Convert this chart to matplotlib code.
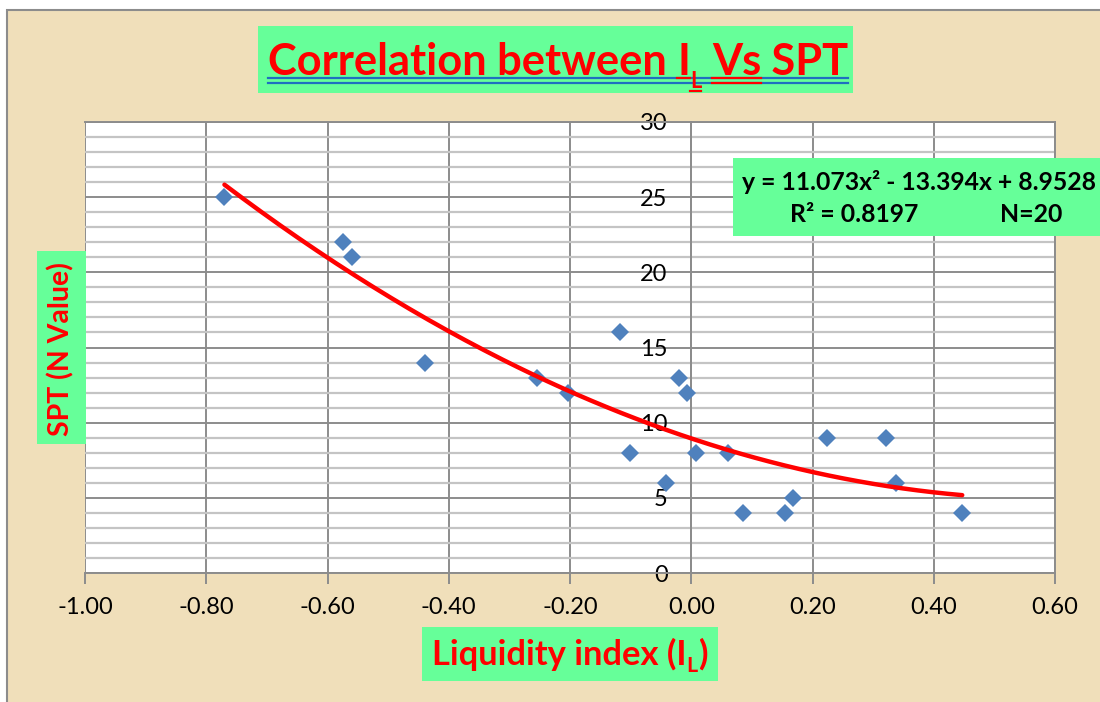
import numpy as np
import matplotlib
matplotlib.use('Agg')
from matplotlib import pyplot as plt
from matplotlib import font_manager
from matplotlib.patches import Rectangle
from matplotlib.lines import Line2D

# data
il = [-0.77, -0.574, -0.559, -0.44, -0.254, -0.203, -0.117, -0.101, -0.041, -0.02,
      -0.007, 0.008, 0.061, 0.086, 0.155, 0.168, 0.224, 0.322, 0.338, 0.447]
spt = [25, 22, 21, 14, 13, 12, 16, 8, 6, 13,
       12, 8, 8, 4, 4, 5, 9, 9, 6, 4]
coef = [11.073, -13.394, 8.9528]   # trendline shown on chart
r2 = 0.8197
xticks = [-1.0, -0.8, -0.6, -0.4, -0.2, 0.0, 0.2, 0.4, 0.6]
yticks = [0, 5, 10, 15, 20, 25, 30]

W, H = 1100, 702
BOLD = ['Lato', 'DejaVu Sans']
GREEN = '#66FF99'


def has_font(name):
    try:
        font_manager.findfont(name, fallback_to_default=False)
        return True
    except Exception:
        return False


NARROW = ['Liberation Sans Narrow'] if has_font('Liberation Sans Narrow') else ['Lato']


def fx(x):
    return x / W


def fy(y):
    return 1 - y / H


fig = plt.figure(figsize=(11, 7.02), dpi=100)
fig.patch.set_facecolor('white')
renderer = fig.canvas.get_renderer()


def box(x0, y0, x1, y1, fc, ec='none', lw=0, z=2):
    fig.add_artist(Rectangle((fx(x0), fy(y1)), fx(x1) - fx(x0), fy(y0) - fy(y1),
                             transform=fig.transFigure, facecolor=fc, edgecolor=ec,
                             linewidth=lw, zorder=z))


def hline(x0, x1, y, color, lw):
    fig.add_artist(Line2D([fx(x0), fx(x1)], [fy(y), fy(y)], transform=fig.transFigure,
                          color=color, linewidth=lw, zorder=5))


def runs(parts, x0, x1, base_y, color, family=BOLD):
    # draw text pieces one after another, scaled so the whole fits x0..x1
    texts = []
    for t, rs, dy in parts:
        texts.append(fig.text(0, 0, t, fontsize=20 * rs, color=color, family=family,
                              weight='bold', va='baseline', ha='left', zorder=6))
    tot = sum(t.get_window_extent(renderer).width for t in texts)
    sc = (x1 - x0) / tot
    pos = []
    cur = x0
    for t, (s, rs, dy) in zip(texts, parts):
        t.set_fontsize(20 * rs * sc)
        t.set_position((fx(cur), fy(base_y + dy)))
        w = t.get_window_extent(renderer).width
        pos.append((cur, cur + w))
        cur += w
    return pos, 20 * sc


# background panel
box(7, 10, 1110, 712, '#F0DFBA', ec='#8c8c8c', lw=1.5, z=-10)

ax = fig.add_axes([fx(85), fy(573), fx(1055) - fx(85), (573 - 122) / H])
ax.set_zorder(1)
ax.set_facecolor('white')
ax.set_xlim(-1.0, 0.6)
ax.set_ylim(0, 30)
ax.set_xticks(xticks)
ax.set_xticklabels(['%.2f' % v for v in xticks])
ax.set_yticks(yticks)
ax.set_yticks(np.arange(0, 31, 1), minor=True)
ax.set_axisbelow(True)
ax.grid(axis='y', which='minor', color='#c4c4c4', linewidth=1.6)
ax.grid(axis='y', which='major', color='#8c8c8c', linewidth=1.4)
ax.grid(axis='x', which='major', color='#8c8c8c', linewidth=1.4)
for s in ax.spines.values():
    s.set_color('#8c8c8c')
    s.set_linewidth(1.4)
ax.spines['left'].set_position(('data', 0))
ax.tick_params(axis='y', which='both', length=0, pad=17, labelsize=17)
ax.tick_params(axis='x', which='major', direction='out', length=8, color='#8c8c8c',
               width=1.4, pad=9, labelsize=17)
for lab in ax.get_yticklabels():
    lab.set_family(['Lato', 'DejaVu Sans'])
for lab in ax.get_xticklabels():
    lab.set_family(NARROW)

ax.plot(il, spt, 'D', color='#4F81BD', markersize=9.5, markeredgewidth=0, zorder=3,
        clip_on=False)
xs = np.linspace(min(il), max(il), 200)
ax.plot(xs, np.polyval(coef, xs), color='#FF0000', linewidth=3.2, zorder=4,
        solid_capstyle='round')

# title
box(258, 26, 853, 93, GREEN)
pos, sz = runs([("Correlation between ", 1, 0), ("I", 1, 0), ("L", 0.5, 13),
                (" ", 1, 0), ("Vs", 1, 0), (" SPT", 1, 0)], 268, 848, 75, '#FF0000')
for yy in (78, 83):
    hline(268, 848, yy, '#1F6FC0', 1.6)
    hline(pos[4][0], pos[4][1], yy, '#FF0000', 1.6)
hline(pos[1][0], pos[1][1], 78, '#FF0000', 1.6)
hline(pos[2][0], pos[2][1], 91, '#FF0000', 1.6)

# equation box
box(733, 158, 1110, 236, GREEN)
pos, sz = runs([("y = %.3fx\u00b2 - %.3fx + %.4f" % (coef[0], -coef[1], coef[2]), 1, 0)],
               742, 1097, 190, 'black')
fig.text(fx(790), fy(222), "R\u00b2 = %.4f" % r2, fontsize=sz, weight='bold',
         family=BOLD, va='baseline', ha='left', zorder=6)
fig.text(fx(1000), fy(222), "N=%d" % len(il), fontsize=sz, weight='bold',
         family=BOLD, va='baseline', ha='left', zorder=6)

# y label
box(37, 251, 86, 444, GREEN)
yl = fig.text(fx(61), fy(349), "SPT (N Value)", rotation=90, fontsize=20, color='#FF0000',
              weight='bold', family=BOLD, ha='center', va='center', zorder=6)
yl.set_fontsize(20 * 174 / yl.get_window_extent(renderer).height)

# x label
box(422, 627, 718, 681, GREEN)
runs([("Liquidity index (I", 1, 0), ("L", 0.62, 7), (")", 1, 0)], 432, 708, 665, '#FF0000')

fig.savefig('out.png', dpi=100, facecolor=fig.get_facecolor())
